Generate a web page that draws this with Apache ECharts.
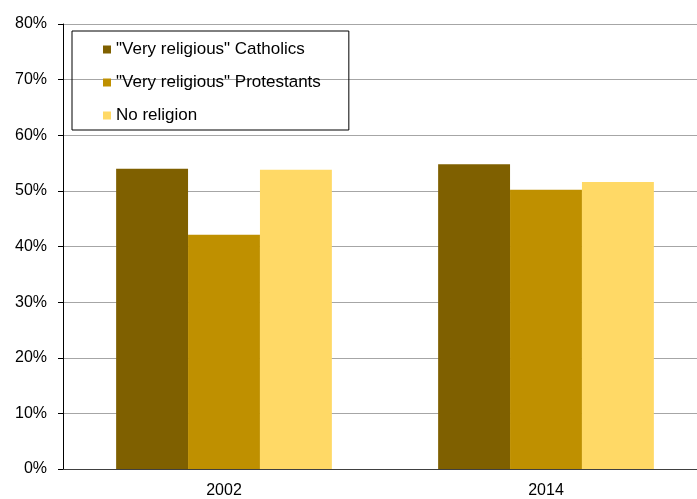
<!DOCTYPE html>
<html><head><meta charset="utf-8">
<script src="https://cdn.jsdelivr.net/npm/echarts@6/dist/echarts.min.js"></script>
<style>html,body{margin:0;padding:0;background:#fff;overflow:hidden;width:697px;height:499px}#c{width:707px;height:499px}</style>
</head><body><div id="c"></div>
<script>
const categories = ['2002', '2014'];
const seriesNames = ['"Very religious" Catholics', '"Very religious" Protestants', 'No religion'];
const catholics = [54.0, 54.8];
const protestants = [42.1, 50.2];
const noReligion = [53.8, 51.6];
const yTicks = [0, 10, 20, 30, 40, 50, 60, 70, 80];
const colors = ['#7F6000', '#BF9000', '#FFD966'];

const chart = echarts.init(document.getElementById('c'), null, {renderer: 'canvas'});
const font = 'Liberation Sans, Arial, sans-serif';
chart.setOption({
  animation: false,
  color: colors,
  grid: {left: 63, right: 0, top: 24, bottom: 27},
  legend: {
    orient: 'vertical', left: 72, top: 31,
    itemWidth: 8, itemHeight: 8, itemGap: 16,
    icon: 'rect',
    borderColor: '#000', borderWidth: 1,
    padding: [10, 28, 6, 31],
    textStyle: {fontFamily: font, fontSize: 17, color: '#000'},
    data: seriesNames
  },
  xAxis: {
    type: 'category', data: categories,
    axisLine: {lineStyle: {color: '#404040'}},
    axisTick: {show: false},
    axisLabel: {fontFamily: font, fontSize: 16, color: '#000', margin: 14}
  },
  yAxis: {
    type: 'value', min: yTicks[0], max: yTicks[yTicks.length - 1], interval: 10,
    axisLine: {show: true, lineStyle: {color: '#000'}},
    axisTick: {show: true, length: 5, lineStyle: {color: '#000'}},
    axisLabel: {fontFamily: font, fontSize: 16, color: '#000', margin: 16, formatter: v => v + '%'},
    splitLine: {lineStyle: {color: '#A6A6A6'}}
  },
  series: [
    {name: seriesNames[0], type: 'bar', data: catholics, barGap: '0%', barCategoryGap: '33%'},
    {name: seriesNames[1], type: 'bar', data: protestants, barGap: '0%', barCategoryGap: '33%'},
    {name: seriesNames[2], type: 'bar', data: noReligion, barGap: '0%', barCategoryGap: '33%'}
  ]
});
</script></body></html>
